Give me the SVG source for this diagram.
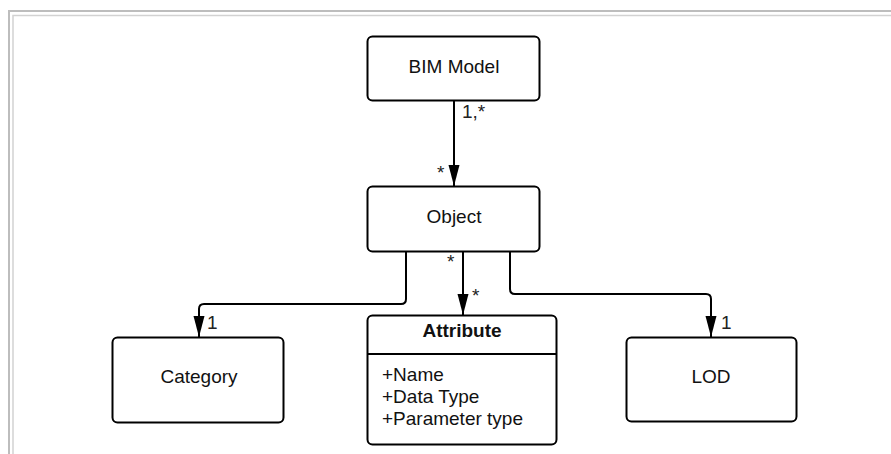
<svg xmlns="http://www.w3.org/2000/svg" width="891" height="454" viewBox="0 0 891 454">
<style>
.box{fill:#fff;stroke:#000;stroke-width:2}
.t{font-family:"Liberation Sans",Arial,sans-serif;font-size:19px;fill:#111;text-anchor:middle}
.b{font-weight:bold}
.l{font-family:"Liberation Sans",Arial,sans-serif;font-size:19px;fill:#222}
.a{font-family:"Liberation Sans",Arial,sans-serif;font-size:19px;fill:#111}
.c{fill:none;stroke:#000;stroke-width:2}
</style>
<defs>
<marker id="arr" markerUnits="userSpaceOnUse" markerWidth="22" markerHeight="12" refX="21" refY="5.5" orient="auto">
<path d="M0,0 L21,5.5 L0,11 Z" fill="#000"/>
</marker>
</defs>
<rect width="891" height="454" fill="#fff"/>
<g id="frame">
<path d="M9 454 V11 H891" fill="none" stroke="#bdbdbd" stroke-width="2"/>
<path d="M13 454 V15.5 H891" fill="none" stroke="#d2d2d2" stroke-width="1.5"/>
</g>
<g id="connectors">
<path class="c" d="M454 101 V186" marker-end="url(#arr)"/>
<path class="c" d="M406 252 V299 Q406 304 401 304 H204 Q199 304 199 309 V337" marker-end="url(#arr)"/>
<path class="c" d="M463 252 V315" marker-end="url(#arr)"/>
<path class="c" d="M510 252 V289 Q510 294 515 294 H706 Q711 294 711 299 V337" marker-end="url(#arr)"/>
<text class="l" x="462" y="118">1,*</text>
<text class="l" x="437" y="179">*</text>
<text class="l" x="447" y="268">*</text>
<text class="l" x="472" y="302">*</text>
<text class="l" x="207" y="329">1</text>
<text class="l" x="721" y="329">1</text>
</g>
<g id="bim-model">
<rect class="box" x="367.5" y="36.5" width="172" height="64" rx="5"/>
<text class="t" x="454" y="73">BIM Model</text>
</g>
<g id="object">
<rect class="box" x="367.5" y="186.5" width="172" height="65" rx="5"/>
<text class="t" x="454" y="223">Object</text>
</g>
<g id="category">
<rect class="box" x="112.5" y="337.5" width="171" height="85" rx="5"/>
<text class="t" x="199" y="383">Category</text>
</g>
<g id="attribute">
<rect class="box" x="367.5" y="315.5" width="189" height="129" rx="5"/>
<line x1="367.5" y1="354" x2="556.5" y2="354" stroke="#000" stroke-width="2"/>
<text class="t b" x="462" y="337">Attribute</text>
<text class="a" x="382" y="381">+Name</text>
<text class="a" x="382" y="403">+Data Type</text>
<text class="a" x="382" y="425">+Parameter type</text>
</g>
<g id="lod">
<rect class="box" x="626.5" y="337.5" width="170" height="84" rx="5"/>
<text class="t" x="711" y="383">LOD</text>
</g>
</svg>
